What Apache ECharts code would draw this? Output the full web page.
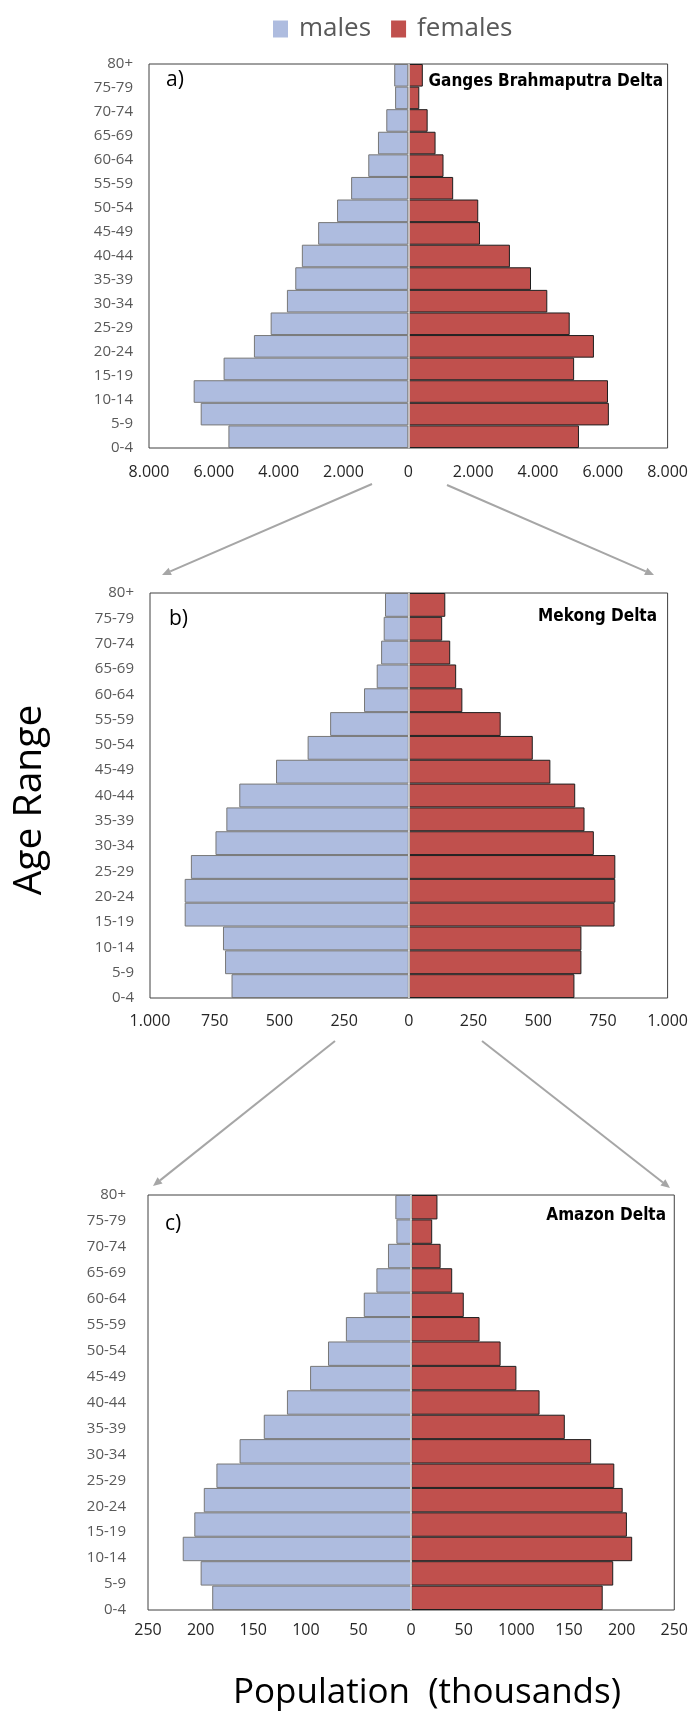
<!DOCTYPE html>
<html>
<head>
<meta charset="utf-8">
<script src="https://cdn.jsdelivr.net/npm/echarts@6/dist/echarts.min.js"></script>
<style>
html,body{margin:0;padding:0;background:#fff;}
#chart{width:691px;height:1711px;}
</style>
</head>
<body>
<div id="chart"></div>
<script>
// ---- data (bottom category first) ----
const categories = ['0-4','5-9','10-14','15-19','20-24','25-29','30-34','35-39','40-44','45-49','50-54','55-59','60-64','65-69','70-74','75-79','80+'];

const gangesMales   = [5550,6405,6622,5699,4763,4247,3745,3487,3284,2782,2198,1764,1235,936,679,407,434];
const gangesFemales = [5265,6188,6161,5116,5727,4980,4288,3786,3135,2212,2158,1384,1086,841,597,339,448];

const mekongMales   = [685,710,718,866,866,842,747,705,655,513,391,304,173,124,107,97,92];
const mekongFemales = [640,667,667,795,798,798,715,679,643,547,479,355,207,183,160,129,141];

const amazonMales   = [189,200,217,206,197,185,163,140,118,96,79,62,45,33,22,14,15];
const amazonFemales = [182,192,210,205,201,193,171,146,122,100,85,65,50,39,28,20,25];

const ticksA = ['8.000','6.000','4.000','2.000','0','2.000','4.000','6.000','8.000'];
const ticksB = ['1.000','750','500','250','0','250','500','750','1.000'];
const ticksC = ['250','200','150','100','50','0','50','1000','150','200','250'];

const panelTitles = ['Ganges Brahmaputra Delta','Mekong Delta','Amazon Delta'];
const panelLetters = ['a)','b)','c)'];

// ---- styles ----
const MALE = '#aebcdf';
const FEMALE = '#c0504d';
const FONT = "'Open Sans','Noto Sans',sans-serif";
const NARROW = "'Liberation Sans Narrow','DejaVu Sans Condensed','Roboto',sans-serif";

const panels = [
  {grid:{left:149,width:524,top:64,height:384}, min:-8000,max:8000,interval:2000,ticks:ticksA,m:gangesMales,f:gangesFemales,xMargin:16,yMargin:16},
  {grid:{left:150,width:523,top:593,height:405}, min:-1000,max:1000,interval:250,ticks:ticksB,m:mekongMales,f:mekongFemales,xMargin:15,yMargin:16},
  {grid:{left:148,width:532,top:1195,height:415}, min:-250,max:250,interval:50,ticks:ticksC,m:amazonMales,f:amazonFemales,xMargin:12,yMargin:22}
];

const grid=[], xAxis=[], yAxis=[], series=[], graphic=[];
panels.forEach((p,i)=>{
  grid.push(Object.assign({show:true,borderColor:'#404040',borderWidth:1,backgroundColor:'#fff'},p.grid));
  xAxis.push({
    type:'value',gridIndex:i,min:p.min,max:p.max,interval:p.interval,
    axisLine:{show:false},axisTick:{show:false},splitLine:{show:false},
    axisLabel:{margin:p.xMargin,fontSize:16,color:'#262626',fontFamily:FONT,
      formatter:(v)=>p.ticks[Math.round((v-p.min)/p.interval)]}
  });
  // bar axis
  yAxis.push({type:'category',gridIndex:i,data:categories,boundaryGap:true,position:'left',
    axisLine:{show:false},axisTick:{show:false},axisLabel:{show:false}});
  // label axis
  yAxis.push({type:'category',gridIndex:i,data:categories,boundaryGap:false,position:'left',
    axisLine:{show:false},axisTick:{show:false},
    axisLabel:{margin:p.yMargin,fontSize:15,color:'#595959',fontFamily:FONT,interval:0}});
  series.push({
    name:'males',type:'bar',xAxisIndex:i,yAxisIndex:2*i,
    data:p.m.map(v=>-v),barWidth:'100%',barGap:'-100%',
    itemStyle:{color:MALE,borderColor:'#777777',borderWidth:1},
    silent:true
  });
  series.push({
    name:'females',type:'bar',xAxisIndex:i,yAxisIndex:2*i,
    data:p.f.slice(),barWidth:'100%',barGap:'-100%',
    itemStyle:{color:FEMALE,borderColor:'#1e1e1e',borderWidth:1},
    silent:true,
    markLine:{silent:true,symbol:['none','none'],label:{show:false},
      lineStyle:{color:'#e4e4e4',width:1.5,type:'solid'},data:[{xAxis:0}]}
  });
});

// panel annotations
const letterPos = [[166,83],[169,622],[165,1227]];
const titlePos = [[663,82],[657,617],[666,1216]];
panels.forEach((p,i)=>{
  graphic.push({type:'text',left:letterPos[i][0],top:letterPos[i][1]-13,
    style:{text:panelLetters[i],fontSize:21,fill:'#000',fontFamily:FONT}});
  graphic.push({type:'text',x:titlePos[i][0],y:titlePos[i][1],
    style:{text:panelTitles[i],fontSize:17,fontWeight:'bold',fill:'#000',fontFamily:NARROW,align:'right',verticalAlign:'middle'}});
});

// arrows
function arrow(x1,y1,x2,y2){
  const dx=x2-x1, dy=y2-y1, L=Math.hypot(dx,dy), ux=dx/L, uy=dy/L;
  const hl=9, hw=4;
  const bx=x2-ux*hl, by=y2-uy*hl;
  graphic.push({type:'line',shape:{x1:x1,y1:y1,x2:bx,y2:by},style:{stroke:'#a6a6a6',lineWidth:2}});
  graphic.push({type:'polygon',shape:{points:[[x2,y2],[bx-uy*hw,by+ux*hw],[bx+uy*hw,by-ux*hw]]},style:{fill:'#a6a6a6'}});
}
arrow(372,484,162,575);
arrow(447,485,654,575);
arrow(335,1041,153,1186);
arrow(482,1041,670,1188);

// axis titles
graphic.push({type:'text',x:30,y:800,rotation:Math.PI/2,
  style:{text:'Age Range',fontSize:39,fill:'#000',fontFamily:FONT,align:'center',verticalAlign:'middle'}});
graphic.push({type:'text',x:427,y:1693,
  style:{text:'Population  (thousands)',fontSize:35,fill:'#000',fontFamily:FONT,align:'center',verticalAlign:'middle'}});

const chart = echarts.init(document.getElementById('chart'),null,{renderer:'canvas'});
chart.setOption({
  animation:false,
  backgroundColor:'#fff',
  legend:{data:['males','females'],left:268,top:11,itemWidth:15,itemHeight:17,itemGap:20,
    icon:'rect',itemStyle:{borderWidth:0},
    textStyle:{fontSize:26,color:'#595959',fontFamily:FONT,padding:[0,0,0,6]}},
  grid, xAxis, yAxis, series, graphic
});
</script>
</body>
</html>
